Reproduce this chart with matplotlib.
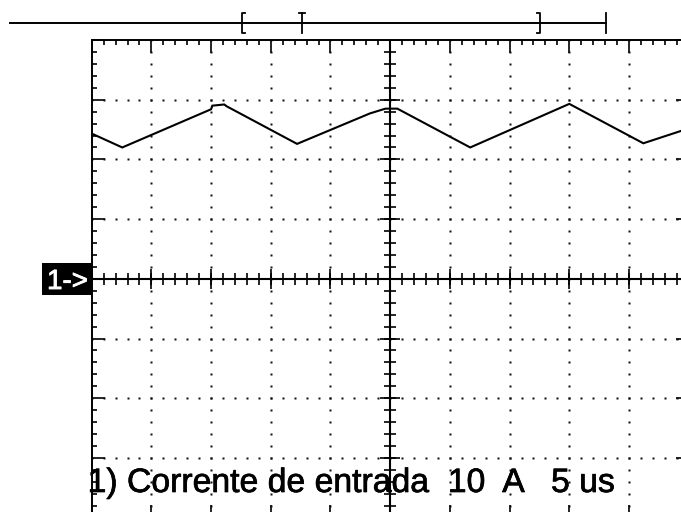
import numpy as np
import matplotlib
matplotlib.use("Agg")
import matplotlib.pyplot as plt
import matplotlib.patheffects as pe
from matplotlib.transforms import blended_transform_factory
from matplotlib.patches import Rectangle

# ---- data (time in us, current in A) ----
time_us = [0.03, 2.56, 10.0, 10.1, 11.1, 11.3, 17.2, 23.3, 24.6, 25.6, 31.7, 40.0, 46.2, 49.4, 50.0]
current_A = [24.3, 22.0, 28.4, 29.0, 29.2, 28.9, 22.6, 27.7, 28.5, 28.5, 22.0, 29.3, 22.7, 24.8, 25.5]

time_per_div = 5      # us/div
amps_per_div = 10     # A/div
n_xdiv = 10
n_ydiv = 8

# memory / trigger indicator above the screen (us)
mem_line = [-6.85, 43.1]
window_bracket = [12.6, 37.57]
trigger_pos = 17.62

label_text = "1) Corrente de entrada  10  A   5 us"
channel_label = "1->"

# ---- figure ----
W, H = 681, 512
fig = plt.figure(figsize=(W / 100, H / 100), dpi=100)
fig.patch.set_facecolor("white")

left_px, top_px, div_px = 91.7, 40.0, 59.7
ax = fig.add_axes([left_px / W, (H - top_px - n_ydiv * div_px) / H,
                   n_xdiv * div_px / W, n_ydiv * div_px / H])
xmax = n_xdiv * time_per_div
ymax = n_ydiv / 2 * amps_per_div
ax.set_xlim(0, xmax)
ax.set_ylim(-ymax, ymax)
ax.set_facecolor("white")

for s in ax.spines.values():
    s.set_linewidth(1.4)
    s.set_color("black")

ax.set_xticks(np.arange(0, xmax + 0.01, time_per_div))
ax.set_xticks(np.arange(0, xmax + 0.01, time_per_div / 5), minor=True)
ax.set_yticks(np.arange(-ymax, ymax + 0.01, amps_per_div))
ax.set_yticks(np.arange(-ymax, ymax + 0.01, amps_per_div / 5), minor=True)
ax.tick_params(which="both", direction="in", top=True, bottom=True, left=True, right=True,
               labelbottom=False, labelleft=False, color="black", width=1.2)
ax.tick_params(which="major", length=9.4)
ax.tick_params(which="minor", length=3.8)

# dotted grid
xc = xmax / 2
fine_x = np.arange(0, xmax + 0.01, time_per_div / 5)
fine_y = np.arange(-ymax, ymax + 0.01, amps_per_div / 5)
for k in range(1, n_xdiv):
    gx = k * time_per_div
    if abs(gx - xc) < 1e-9:
        continue
    ax.plot(np.full_like(fine_y, gx), fine_y, ls="none", marker="s", ms=1.6,
            mec="none", mfc="#111111")
for k in range(1, n_ydiv):
    gy = -ymax + k * amps_per_div
    if abs(gy) < 1e-9:
        continue
    ax.plot(fine_x, np.full_like(fine_x, gy), ls="none", marker="s", ms=1.6,
            mec="none", mfc="#111111")

# center axes with cross ticks
ax.axhline(0, color="black", lw=1.5)
ax.axvline(xc, color="black", lw=1.5)
ax.plot(fine_x, np.zeros_like(fine_x), ls="none", marker="|", ms=8, mew=1.2, color="black")
ax.plot(np.full_like(fine_y, xc), fine_y, ls="none", marker="_", ms=8, mew=1.2, color="black")
maj_x = np.arange(0, xmax + 0.01, time_per_div)
maj_y = np.arange(-ymax, ymax + 0.01, amps_per_div)
ax.plot(maj_x, np.zeros_like(maj_x), ls="none", marker="|", ms=14, mew=1.2, color="black")
ax.plot(np.full_like(maj_y, xc), maj_y, ls="none", marker="_", ms=14, mew=1.2, color="black")

# waveform
ax.plot(time_us, current_A, color="black", lw=1.5, solid_joinstyle="miter")

# top indicator
tr = blended_transform_factory(ax.transData, fig.transFigure)
y_line = (H - 23) / H
y_hi = (H - 13) / H
y_lo = (H - 33) / H
serif = 3.0 / div_px * time_per_div
ax.plot(mem_line, [y_line, y_line], transform=tr, color="black", lw=1.4, clip_on=False)
b0, b1 = window_bracket
ax.plot([b0 + serif, b0, b0, b0 + serif], [y_hi, y_hi, y_lo, y_lo], transform=tr,
        color="black", lw=1.3, clip_on=False)
ax.plot([b1 - serif, b1, b1, b1 - serif], [y_hi, y_hi, y_lo, y_lo], transform=tr,
        color="black", lw=1.3, clip_on=False)
ax.plot([trigger_pos, trigger_pos], [y_hi, y_lo], transform=tr, color="black", lw=1.3, clip_on=False)
ax.plot([trigger_pos - serif, trigger_pos + serif], [y_hi, y_hi], transform=tr,
        color="black", lw=1.3, clip_on=False)
ax.plot([mem_line[1], mem_line[1]], [y_hi, y_lo], transform=tr, color="black", lw=1.3, clip_on=False)

# channel marker box
fig.patches.append(Rectangle((42.3 / W, (H - 295) / H), (91.7 - 42.3) / W, 32 / H,
                             transform=fig.transFigure, facecolor="black", edgecolor="none"))
fig.text(47 / W, (H - 289) / H, channel_label, color="white", fontsize=20,
         family="Liberation Sans", va="baseline", ha="left",
         path_effects=[pe.withStroke(linewidth=0.6, foreground="white")])

# bottom label
fig.text(87.6 / W, (H - 492) / H, label_text, color="black", fontsize=24.3,
         family="Liberation Sans", va="baseline", ha="left",
         path_effects=[pe.withStroke(linewidth=0.5, foreground="black")])

fig.savefig("out.png", dpi=100, facecolor="white")
